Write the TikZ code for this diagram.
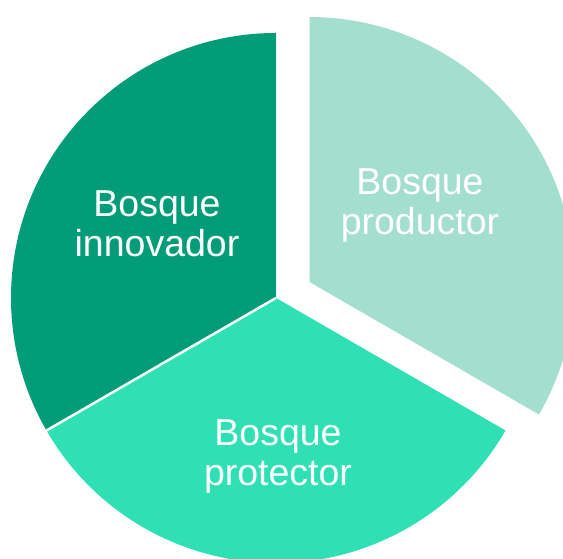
\documentclass[tikz,border=0pt]{standalone}
\usepackage{fontspec}
\setmainfont{Liberation Sans}
\usetikzlibrary{calc}
\definecolor{innov}{HTML}{029D78}
\definecolor{protec}{HTML}{2EE0B4}
\definecolor{produc}{HTML}{A3DECF}
\begin{document}
\begin{tikzpicture}[x=1pt,y=1pt,
  lbl/.style={text=white, align=center, inner sep=0pt, anchor=base,
    font=\fontsize{37.5}{40}\selectfont}]
\useasboundingbox (0,0) rectangle (563,559);
\clip (0,0) rectangle (563,559);
\coordinate (C) at (276,261);
\coordinate (P) at (309.5,277);
\def\R{265}
% innovador
\fill[innov] (C) -- ++(90:\R) arc[start angle=90, end angle=210, radius=\R] -- cycle;
% protector
\fill[protec] (C) -- ++(210:\R) arc[start angle=210, end angle=330, radius=\R] -- cycle;
% productor (exploded)
\fill[produc] (P) -- ++(-30:\R) arc[start angle=-30, end angle=90, radius=\R] -- cycle;
% thin separator
\coordinate (S) at ($(C)+(210:\R+5)$);
\draw[white, line width=2.5pt] (C) -- (S);
\node[lbl] (ninn) at (157,302) {Bosque\\innovador};
\node[lbl] (nprod) at (420,324) {Bosque\\productor};
\node[lbl] (nprot) at (278,73) {Bosque\\protector};
\end{tikzpicture}
\end{document}
